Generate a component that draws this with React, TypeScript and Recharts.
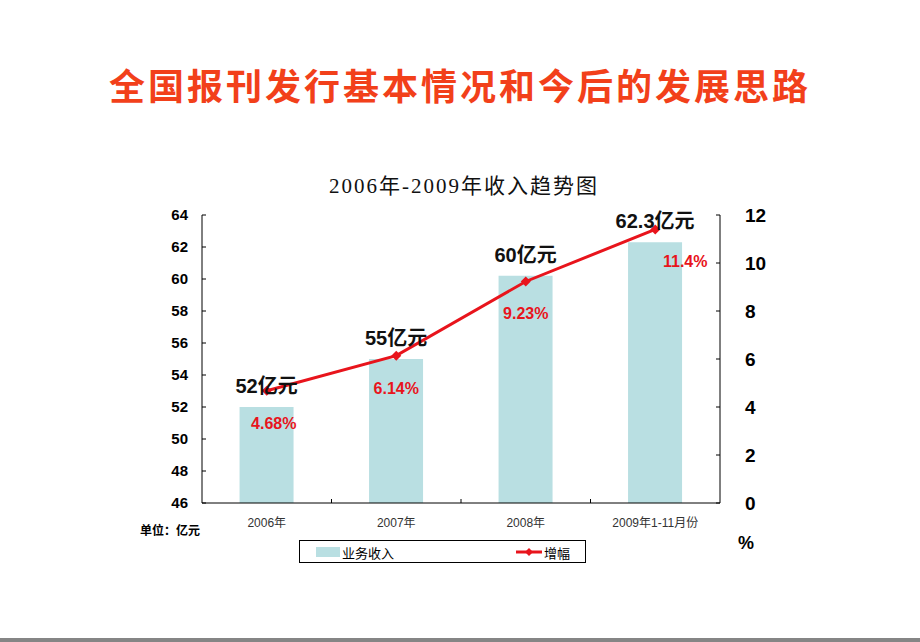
import React from 'react';
import { ComposedChart, Bar, Line, XAxis, YAxis, LabelList } from 'recharts';

const categories = ['2006年', '2007年', '2008年', '2009年1-11月份'];
const revenue = [52, 55, 60.2, 62.3];
const revenueLabels = ['52亿元', '55亿元', '60亿元', '62.3亿元'];
const growth = [4.68, 6.14, 9.23, 11.4];
const growthLabels = ['4.68%', '6.14%', '9.23%', '11.4%'];
const leftTicks = [46, 48, 50, 52, 54, 56, 58, 60, 62, 64];
const rightTicks = [0, 2, 4, 6, 8, 10, 12];

const data = categories.map((name, i) => ({
  name,
  revenue: revenue[i],
  growth: growth[i],
  revenueLabel: revenueLabels[i],
  growthLabel: growthLabels[i],
}));

const BAND = 129.5;
const serif = '"Liberation Serif", "DejaVu Serif", "Noto Sans CJK SC", serif';
const sans = 'Arial, "Liberation Sans", "Noto Sans CJK SC", sans-serif';

const XTick = (props: any) => {
  const { x, y, payload, index } = props;
  return (
    <g>
      {index > 0 && <line x1={x - BAND / 2} x2={x - BAND / 2} y1={503} y2={499} stroke="#000" />}
      <text x={x} y={y + 16} textAnchor="middle" fontSize={12} fontFamily={sans} fill="#333">
        {payload.value}
      </text>
    </g>
  );
};

const GrowthLabel = (props: any) => {
  const { x, y, index, value } = props;
  const dx = index === 3 ? 30 : index === 0 ? 7 : 0;
  return (
    <text x={x + dx} y={y + 38} textAnchor="middle" fontSize={16} fontWeight="bold" fontFamily={sans} fill="#E8141C">
      {value}
    </text>
  );
};

const RevenueLabel = (props: any) => {
  const { x, y, width, value } = props;
  return (
    <text x={x + width / 2} y={y - 14} textAnchor="middle" fontSize={20} fontWeight="bold" fontFamily={sans} fill="#111">
      {value}
    </text>
  );
};

const LegendBox = () => (
  <div
    style={{
      position: 'absolute',
      left: 299,
      top: 540,
      width: 287,
      height: 23,
      border: '1px solid #000',
      boxSizing: 'border-box',
      fontFamily: sans,
      fontSize: 13,
      background: '#fff',
    }}
  >
    <div style={{ position: 'absolute', left: 16, top: 6, width: 24, height: 10, background: '#B9DFE2' }} />
    <span style={{ position: 'absolute', left: 42, top: 2 }}>业务收入</span>
    <svg style={{ position: 'absolute', left: 216, top: 5 }} width={26} height={12}>
      <line x1={0} x2={26} y1={6} y2={6} stroke="#E8141C" strokeWidth={3} />
      <polygon points="13,2 17,6 13,10 9,6" fill="#E8141C" />
    </svg>
    <span style={{ position: 'absolute', left: 244, top: 2 }}>增幅</span>
  </div>
);

export default function App() {
  return (
    <div style={{ position: 'absolute', left: 0, top: 0, width: 920, height: 642, background: '#fff', overflow: 'hidden' }}>
      <div
        style={{
          position: 'absolute',
          top: 58,
          left: 0,
          width: 920,
          textAlign: 'center',
          fontFamily: '"Noto Sans CJK SC", sans-serif',
          fontWeight: 'bold',
          fontSize: 36,
          letterSpacing: 3,
          color: '#F2401A',
        }}
      >
        全国报刊发行基本情况和今后的发展思路
      </div>
      <div
        style={{
          position: 'absolute',
          top: 169,
          left: 4,
          width: 920,
          textAlign: 'center',
          fontFamily: serif,
          fontSize: 21,
          letterSpacing: 2,
          color: '#111',
        }}
      >
        2006年-2009年收入趋势图
      </div>
      <div style={{ position: 'absolute', left: 140, top: 521, fontFamily: serif, fontSize: 12, fontWeight: 'bold' }}>
        单位：亿元
      </div>
      <div style={{ position: 'absolute', left: 738, top: 533, fontFamily: sans, fontSize: 18, fontWeight: 'bold' }}>
        %
      </div>
      <ComposedChart
        width={920}
        height={642}
        data={data}
        margin={{ top: 215, right: 160, left: 162, bottom: 109 }}
        barCategoryGap="29%"
        style={{ position: 'absolute', left: 0, top: 0 }}
      >
        <XAxis
          dataKey="name"
          height={30}
          axisLine={{ stroke: '#000' }}
          tickLine={false}
          tick={<XTick />}
          interval={0}
        />
        <YAxis
          yAxisId="left"
          orientation="left"
          width={40}
          domain={[46, 64]}
          ticks={leftTicks}
          interval={0}
          axisLine={{ stroke: '#000' }}
          tickLine={{ stroke: '#000' }}
          tickSize={-4}
          tickMargin={18}
          tick={{ fontSize: 15, fontWeight: 'bold', fill: '#000', fontFamily: sans }}
        />
        <YAxis
          yAxisId="right"
          orientation="right"
          width={40}
          domain={[0, 12]}
          ticks={rightTicks}
          interval={0}
          axisLine={{ stroke: '#000' }}
          tickLine={{ stroke: '#000' }}
          tickSize={-4}
          tickMargin={29}
          tick={{ fontSize: 19, fontWeight: 'bold', fill: '#000', fontFamily: sans }}
        />
        <Bar yAxisId="left" dataKey="revenue" fill="#B9DFE2" isAnimationActive={false}>
          <LabelList dataKey="revenueLabel" content={<RevenueLabel />} />
        </Bar>
        <Line
          yAxisId="right"
          dataKey="growth"
          stroke="#E8141C"
          strokeWidth={3}
          dot={(p: any) => (
            <polygon
              key={p.index}
              points={`${p.cx},${p.cy - 5} ${p.cx + 5},${p.cy} ${p.cx},${p.cy + 5} ${p.cx - 5},${p.cy}`}
              fill="#E8141C"
            />
          )}
          activeDot={false}
          isAnimationActive={false}
        >
          <LabelList dataKey="growthLabel" content={<GrowthLabel />} />
        </Line>
      </ComposedChart>
      <LegendBox />
      <div style={{ position: 'absolute', left: 0, top: 638, width: 920, height: 4, background: '#858585' }} />
    </div>
  );
}
